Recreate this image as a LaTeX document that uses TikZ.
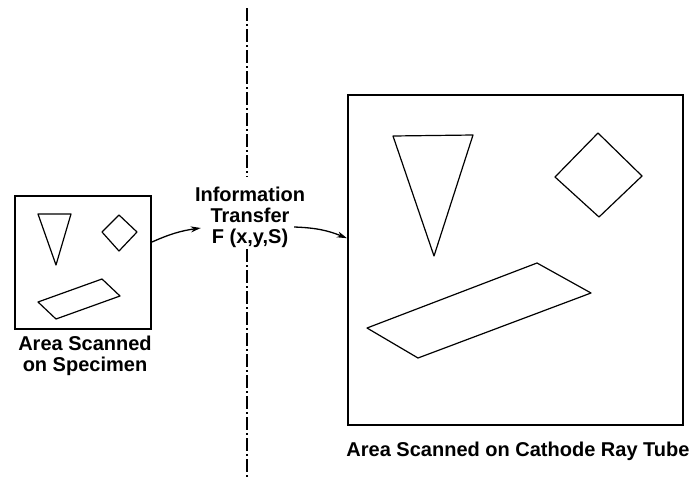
\documentclass[tikz,border=0pt]{standalone}
\usepackage{fontspec}
\setmainfont{Liberation Sans}
\usetikzlibrary{arrows.meta}
\begin{document}
\begin{tikzpicture}[x=1pt,y=-1pt,
  frame/.style={draw, line width=2pt, inner sep=0pt, anchor=north west},
  figure/.style={line width=1.2pt, line join=round},
  caption/.style={font=\bfseries\fontsize{20}{21}\selectfont, align=center, inner sep=0pt},
  flow/.style={line width=1.3pt, -{Stealth[length=10pt, width=6pt, inset=3pt]}},
  axis/.style={line width=1.3pt, dash pattern=on 13pt off 3pt on 2pt off 3pt}]
\useasboundingbox (0,0) rectangle (692,477);

% specimen area
\node[frame, minimum width=136pt, minimum height=133pt] (spec) at (14,195) {};
\draw[figure] (38,214) -- (71,214) -- (56,265) -- cycle;
\draw[figure] (102,232) -- (119,215) -- (137,232) -- (119,251) -- cycle;
\draw[figure] (38,302) -- (102,279) -- (120,296) -- (56,319) -- cycle;
\node[caption] (speclabel) at (85,356) {Area Scanned\\on Specimen};

% cathode ray tube area
\node[frame, line width=2.4pt, minimum width=335pt, minimum height=330pt] (crt) at (347,94) {};
\draw[figure] (393,136) -- (473,135) -- (434,256) -- cycle;
\draw[figure] (598,133) -- (642,176) -- (599,217) -- (555,177) -- cycle;
\draw[figure] (367,328) -- (537,263) -- (591,293) -- (418,358) -- cycle;
\node[caption] (crtlabel) at (518,451) {Area Scanned on Cathode Ray Tube};

% transfer function
\node[caption] (info) at (250,217.5) {Information\\Transfer\\F (x,y,S)};

% dash-dot divider
\coordinate (dtop) at (247,8);
\coordinate (dtopend) at (247,177);
\coordinate (dbotstart) at (247,249);
\coordinate (dbot) at (247,477);
\draw[axis] (dtop) -- (dtopend);
\draw[axis] (dbotstart) -- (dbot);

% information flow
\draw[flow] ([yshift=20.5pt]spec.east) to[bend left=8] ([xshift=6pt, yshift=-10.5pt]info.west);
\draw[flow] ([xshift=-11pt, yshift=-9.5pt]info.east) to[bend left=10] ([yshift=22pt]crt.west);
\end{tikzpicture}
\end{document}
